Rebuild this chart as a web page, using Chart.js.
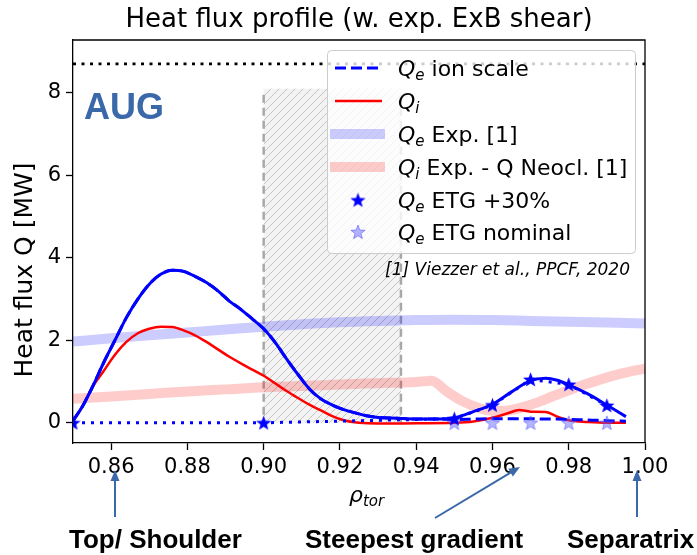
<!DOCTYPE html>
<html>
<head>
<meta charset="utf-8">
<script src="https://cdn.jsdelivr.net/npm/chart.js@4.4.1/dist/chart.umd.min.js"></script>
<style>
  body { margin: 0; background: #fff; }
</style>
</head>
<body>
<canvas id="grafico" width="697" height="555"></canvas>
<script>
// rho_tor grids and heat fluxes [MW]
const rhoQe = [0.850, 0.8525, 0.855, 0.858, 0.861, 0.864, 0.867, 0.870, 0.873, 0.876, 0.879, 0.882, 0.885, 0.888, 0.891, 0.894, 0.897, 0.900, 0.903, 0.906, 0.909, 0.912, 0.915, 0.918, 0.921, 0.924, 0.927, 0.930, 0.935, 0.940, 0.945, 0.950, 0.955, 0.960, 0.965, 0.970, 0.974, 0.977, 0.980, 0.985, 0.990, 0.995];
const qeTotal = [0.05, 0.40, 0.85, 1.45, 2.00, 2.55, 3.00, 3.36, 3.60, 3.70, 3.67, 3.55, 3.40, 3.20, 2.95, 2.75, 2.52, 2.28, 1.95, 1.55, 1.17, 0.82, 0.58, 0.43, 0.32, 0.24, 0.17, 0.13, 0.11, 0.09, 0.09, 0.12, 0.27, 0.45, 0.75, 1.02, 1.08, 1.03, 0.92, 0.70, 0.43, 0.15];
const qeIon = [0.05, 0.40, 0.85, 1.45, 2.00, 2.55, 3.00, 3.36, 3.60, 3.70, 3.67, 3.55, 3.40, 3.20, 2.95, 2.75, 2.52, 2.28, 1.95, 1.55, 1.17, 0.82, 0.58, 0.43, 0.32, 0.24, 0.17, 0.13, 0.11, 0.09, 0.09, 0.08, 0.09, 0.10, 0.10, 0.10, 0.09, 0.09, 0.08, 0.07, 0.05, 0.04];

const rhoQi = [0.850, 0.8525, 0.855, 0.858, 0.861, 0.864, 0.867, 0.870, 0.873, 0.876, 0.879, 0.882, 0.885, 0.888, 0.891, 0.894, 0.897, 0.900, 0.903, 0.906, 0.909, 0.912, 0.915, 0.918, 0.921, 0.925, 0.930, 0.940, 0.950, 0.955, 0.960, 0.964, 0.967, 0.970, 0.974, 0.977, 0.980, 0.985, 0.990, 0.995];
const qi = [0.05, 0.40, 0.85, 1.25, 1.65, 1.96, 2.17, 2.28, 2.33, 2.32, 2.24, 2.12, 1.96, 1.78, 1.60, 1.44, 1.29, 1.14, 0.96, 0.77, 0.60, 0.44, 0.30, 0.16, 0.06, 0.00, -0.02, -0.01, 0.00, 0.03, 0.12, 0.23, 0.31, 0.27, 0.26, 0.15, 0.06, 0.02, 0.00, 0.00];

const rhoQeExp = [0.85, 0.86, 0.87, 0.88, 0.89, 0.90, 0.91, 0.92, 0.93, 0.94, 0.95, 0.96, 0.97, 0.98, 0.99, 1.00];
const qeExp = [1.97, 2.05, 2.12, 2.19, 2.26, 2.33, 2.39, 2.44, 2.47, 2.49, 2.50, 2.49, 2.47, 2.45, 2.43, 2.41];

const rhoQiExp = [0.85, 0.86, 0.87, 0.88, 0.89, 0.90, 0.91, 0.92, 0.93, 0.94, 0.944, 0.948, 0.952, 0.956, 0.960, 0.964, 0.968, 0.972, 0.976, 0.980, 0.984, 0.988, 0.992, 0.996, 1.000];
const qiExp = [0.58, 0.64, 0.70, 0.76, 0.81, 0.86, 0.89, 0.93, 0.96, 0.99, 1.02, 0.76, 0.53, 0.37, 0.29, 0.30, 0.38, 0.50, 0.65, 0.79, 0.92, 1.04, 1.15, 1.24, 1.31];

const rhoEtgHigh = [0.85, 0.90, 0.95, 0.96, 0.97, 0.98, 0.99];
const qeEtgHigh = [0.00, 0.00, 0.10, 0.43, 1.05, 0.93, 0.42];
const rhoEtgNom = [0.95, 0.96, 0.97, 0.98, 0.99];
const qeEtgNom = [0.00, 0.00, 0.00, 0.00, 0.00];

const rhoLimit = [0.85, 1.00];
const qLimit = [8.7, 8.7];

// shaded window in rho and its height
const shadeRho = [0.900, 0.936];
const shadeQ = [0.0, 8.1];

const xTicks = [0.86, 0.88, 0.90, 0.92, 0.94, 0.96, 0.98, 1.00];
const yTicks = [0, 2, 4, 6, 8];

const pts = (xs, ys) => xs.map((x, i) => ({ x: x, y: ys[i] }));

function starImage(size, fill, stroke) {
    const c = document.createElement('canvas');
    c.width = c.height = size;
    const g = c.getContext('2d');
    const r = size / 2 - 0.5, ri = r * 0.42, cx = size / 2, cy = size / 2 + r * 0.08;
    g.beginPath();
    for (let k = 0; k < 10; k++) {
        const a = -Math.PI / 2 + k * Math.PI / 5;
        const rr = k % 2 ? ri : r;
        g.lineTo(cx + rr * Math.cos(a), cy + rr * Math.sin(a));
    }
    g.closePath();
    g.fillStyle = fill;
    g.fill();
    if (stroke) { g.strokeStyle = stroke; g.lineWidth = 1; g.stroke(); }
    return c;
}
const starDark = starImage(17, '#0000ff');
const starLight = starImage(16, 'rgba(90,90,255,0.45)', 'rgba(70,70,255,0.5)');

function hatchPattern(ctx) {
    const c = document.createElement('canvas');
    c.width = c.height = 8;
    const g = c.getContext('2d');
    g.fillStyle = '#f3f3f3';
    g.fillRect(0, 0, 8, 8);
    g.strokeStyle = '#c4c4c4';
    g.lineWidth = 1;
    g.beginPath();
    g.moveTo(0, 8); g.lineTo(8, 0);
    g.moveTo(-1, 1); g.lineTo(1, -1);
    g.moveTo(7, 9); g.lineTo(9, 7);
    g.stroke();
    return ctx.createPattern(c, 'repeat');
}

function mathText(ctx, x, y, sub, rest, size) {
    ctx.font = 'italic ' + size + 'px "DejaVu Sans"';
    ctx.fillText('Q', x, y);
    x += ctx.measureText('Q').width;
    const ss = Math.round(size * 0.7);
    ctx.font = 'italic ' + ss + 'px "DejaVu Sans"';
    ctx.fillText(sub, x, y + size * 0.22);
    x += ctx.measureText(sub).width;
    ctx.font = size + 'px "DejaVu Sans"';
    ctx.fillText(rest, x, y);
}

function arrow(ctx, x0, y0, x1, y1) {
    const a = Math.atan2(y1 - y0, x1 - x0);
    const hl = 11, hw = 4.5;
    const bx = x1 - hl * Math.cos(a), by = y1 - hl * Math.sin(a);
    ctx.beginPath();
    ctx.moveTo(x0, y0);
    ctx.lineTo(bx, by);
    ctx.stroke();
    ctx.beginPath();
    ctx.moveTo(x1, y1);
    ctx.lineTo(bx + hw * Math.sin(a), by - hw * Math.cos(a));
    ctx.lineTo(bx - hw * Math.sin(a), by + hw * Math.cos(a));
    ctx.closePath();
    ctx.fill();
}

const extras = {
    id: 'extras',
    beforeDatasetsDraw(chart) {
        const { ctx, chartArea: a, scales: { x, y } } = chart;
        const x0 = x.getPixelForValue(shadeRho[0]), x1 = x.getPixelForValue(shadeRho[1]);
        const yb = y.getPixelForValue(shadeQ[0]), yt = y.getPixelForValue(shadeQ[1]);
        ctx.save();
        ctx.beginPath();
        ctx.rect(a.left, a.top, a.right - a.left, a.bottom - a.top);
        ctx.clip();
        ctx.fillStyle = hatchPattern(ctx);
        ctx.fillRect(x0, yt, x1 - x0, yb - yt);
        ctx.strokeStyle = '#a8a8a8';
        ctx.lineWidth = 2.5;
        ctx.setLineDash([8, 5]);
        [x0, x1].forEach(px => {
            ctx.beginPath();
            ctx.moveTo(px, yt + 6);
            ctx.lineTo(px, yb);
            ctx.stroke();
        });
        ctx.restore();
    },
    afterDatasetsDraw(chart) {
        const { ctx } = chart;
        ctx.save();
        // AUG tag
        ctx.fillStyle = '#3a68a8';
        ctx.font = 'bold 36px "Liberation Sans"';
        ctx.textBaseline = 'alphabetic';
        ctx.fillText('AUG', 84, 119);

        // legend box
        const lx = 327, ly = 50, lw = 308, lh = 203;
        ctx.fillStyle = 'rgba(255,255,255,0.8)';
        ctx.strokeStyle = '#cccccc';
        ctx.lineWidth = 1;
        ctx.beginPath();
        ctx.roundRect(lx + 0.5, ly + 0.5, lw, lh, 4);
        ctx.fill();
        ctx.stroke();

        const rows = [68, 101, 134, 167, 200, 232];
        const hx0 = 335, hx1 = 382;
        ctx.lineCap = 'butt';
        // Qe ion scale
        ctx.strokeStyle = '#0000ff'; ctx.lineWidth = 3; ctx.setLineDash([11, 5]);
        ctx.beginPath(); ctx.moveTo(hx0, rows[0]); ctx.lineTo(hx1, rows[0]); ctx.stroke();
        ctx.setLineDash([]);
        // Qi
        ctx.strokeStyle = '#ff0000'; ctx.lineWidth = 2.5;
        ctx.beginPath(); ctx.moveTo(hx0, rows[1]); ctx.lineTo(hx1, rows[1]); ctx.stroke();
        // experimental bands
        ctx.fillStyle = 'rgba(0,0,255,0.2)';
        ctx.fillRect(330, rows[2] - 5, 55, 10);
        ctx.fillStyle = 'rgba(255,0,0,0.2)';
        ctx.fillRect(330, rows[3] - 5, 55, 10);
        // ETG stars
        ctx.drawImage(starDark, 358 - 8.5, rows[4] - 8.5);
        ctx.drawImage(starLight, 358 - 8, rows[5] - 8);

        ctx.fillStyle = '#000';
        const tx = 398, off = 7.5;
        mathText(ctx, tx, rows[0] + off, 'e', ' ion scale', 22);
        mathText(ctx, tx, rows[1] + off, 'i', '', 22);
        mathText(ctx, tx, rows[2] + off, 'e', ' Exp. [1]', 22);
        mathText(ctx, tx, rows[3] + off, 'i', ' Exp. - Q Neocl. [1]', 22);
        mathText(ctx, tx, rows[4] + off, 'e', ' ETG +30%', 22);
        mathText(ctx, tx, rows[5] + off, 'e', ' ETG nominal', 22);

        // reference note
        ctx.font = 'italic 17px "DejaVu Sans"';
        ctx.textAlign = 'right';
        ctx.fillText('[1] Viezzer et al., PPCF, 2020', 630, 275);
        ctx.restore();
    },
    afterDraw(chart) {
        const { ctx, chartArea: a } = chart;
        ctx.save();
        // top and right spines
        ctx.strokeStyle = '#000';
        ctx.lineWidth = 1.3;
        ctx.beginPath();
        ctx.moveTo(a.left, a.top);
        ctx.lineTo(a.right, a.top);
        ctx.lineTo(a.right, a.bottom);
        ctx.stroke();

        ctx.fillStyle = '#000';
        ctx.textAlign = 'center';
        ctx.textBaseline = 'alphabetic';
        ctx.font = '26px "DejaVu Sans"';
        ctx.fillText('Heat flux profile (w. exp. ExB shear)', (a.left + a.right) / 2, 27);

        // y axis label
        ctx.save();
        ctx.translate(32, 270);
        ctx.rotate(-Math.PI / 2);
        ctx.font = '25px "DejaVu Sans"';
        ctx.fillText('Heat flux Q [MW]', 0, 0);
        ctx.restore();

        // x axis label rho_tor
        ctx.textAlign = 'left';
        ctx.font = 'italic 22px "DejaVu Sans"';
        ctx.fillText('\u03c1', 349, 502);
        const rw = ctx.measureText('\u03c1').width;
        ctx.font = 'italic 15px "DejaVu Sans"';
        ctx.fillText('tor', 349 + rw, 506);

        // region markers below the axis
        ctx.strokeStyle = '#3a68a8';
        ctx.fillStyle = '#3a68a8';
        ctx.lineWidth = 2;
        arrow(ctx, 115, 517, 115, 470);
        arrow(ctx, 435, 518, 520, 467);
        arrow(ctx, 637, 517, 637, 470);

        ctx.fillStyle = '#000';
        ctx.font = 'bold 26px "Liberation Sans"';
        ctx.fillText('Top/ Shoulder', 69, 548);
        ctx.fillText('Steepest gradient', 305, 548);
        ctx.fillText('Separatrix', 567, 548);
        ctx.restore();
    }
};

const tickFont = { family: 'DejaVu Sans', size: 21 };

new Chart(document.getElementById('grafico').getContext('2d'), {
    type: 'line',
    data: {
        datasets: [
            {
                label: 'Qe ETG +30%',
                data: pts(rhoEtgHigh, qeEtgHigh),
                borderColor: '#0000ff',
                borderWidth: 3,
                borderDash: [3, 6],
                pointStyle: starDark,
                pointRadius: 8,
                tension: 0,
                fill: false
            },
            {
                label: 'Qe ETG nominal',
                data: pts(rhoEtgNom, qeEtgNom),
                showLine: false,
                pointStyle: starLight,
                pointRadius: 8,
                fill: false
            },
            {
                label: 'Qe ion scale',
                data: pts(rhoQe, qeIon),
                borderColor: '#0000ff',
                borderWidth: 3,
                borderDash: [11, 5],
                pointRadius: 0,
                cubicInterpolationMode: 'monotone',
                fill: false
            },
            {
                label: 'Qe',
                data: pts(rhoQe, qeTotal),
                borderColor: '#0000ff',
                borderWidth: 3,
                pointRadius: 0,
                cubicInterpolationMode: 'monotone',
                fill: false
            },
            {
                label: 'Qi',
                data: pts(rhoQi, qi),
                borderColor: '#ff0000',
                borderWidth: 2.5,
                pointRadius: 0,
                cubicInterpolationMode: 'monotone',
                fill: false
            },
            {
                label: 'Qi Exp. - Q Neocl. [1]',
                data: pts(rhoQiExp, qiExp),
                borderColor: 'rgba(255,0,0,0.2)',
                borderWidth: 10,
                pointRadius: 0,
                cubicInterpolationMode: 'monotone',
                fill: false
            },
            {
                label: 'Qe Exp. [1]',
                data: pts(rhoQeExp, qeExp),
                borderColor: 'rgba(0,0,255,0.2)',
                borderWidth: 10,
                pointRadius: 0,
                cubicInterpolationMode: 'monotone',
                fill: false
            },
            {
                label: 'limit',
                data: pts(rhoLimit, qLimit),
                borderColor: '#000',
                borderWidth: 2.8,
                borderDash: [3, 5.5],
                pointRadius: 0,
                fill: false
            }
        ]
    },
    options: {
        responsive: false,
        devicePixelRatio: 1,
        animation: false,
        events: [],
        layout: { padding: { top: 40, right: 52, left: 0, bottom: 0 } },
        plugins: { legend: { display: false }, tooltip: { enabled: false }, title: { display: false } },
        scales: {
            x: {
                type: 'linear',
                min: 0.85,
                max: 1.0,
                afterBuildTicks: s => { s.ticks = xTicks.map(v => ({ value: v })); },
                afterFit: s => { s.height = 112; },
                ticks: { callback: v => v.toFixed(2), font: tickFont, color: '#000', padding: 5, maxRotation: 0, autoSkip: false },
                grid: { drawOnChartArea: false, tickLength: 7, tickWidth: 1.3, tickColor: '#000' },
                border: { color: '#000', width: 1.3 }
            },
            y: {
                type: 'linear',
                min: -0.49,
                max: 9.28,
                afterBuildTicks: s => { s.ticks = yTicks.map(v => ({ value: v })); },
                afterFit: s => { s.width = 73; },
                ticks: { callback: v => String(v), font: tickFont, color: '#000', padding: 5, autoSkip: false },
                grid: { drawOnChartArea: false, tickLength: 7, tickWidth: 1.3, tickColor: '#000' },
                border: { color: '#000', width: 1.3 }
            }
        }
    },
    plugins: [extras]
});
</script>
</body>
</html>
